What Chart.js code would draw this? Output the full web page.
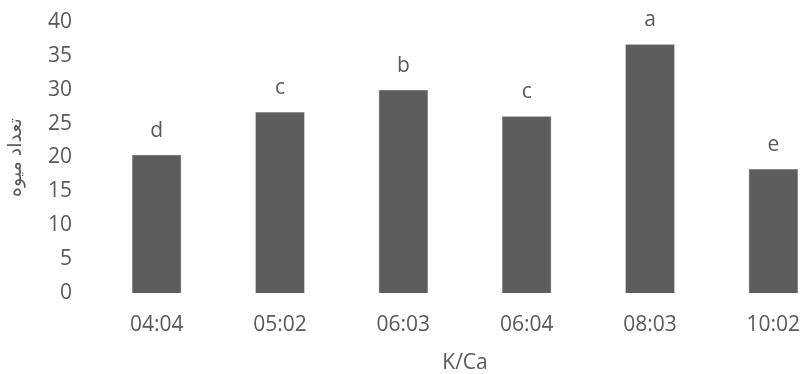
<!DOCTYPE html>
<html>
<head>
<meta charset="utf-8">
<script src="https://cdn.jsdelivr.net/npm/chart.js@4.4.1/dist/chart.umd.min.js"></script>
<style>
  html, body { margin: 0; padding: 0; background: #fff; overflow: hidden; }
  #wrap { width: 840px; height: 374px; }
</style>
</head>
<body>
<div id="wrap"><canvas id="chart" width="840" height="374"></canvas></div>
<script>
// data
const categories = ['04:04', '05:02', '06:03', '06:04', '08:03', '10:02'];
const fruitCount = [20.4, 26.7, 30.0, 26.1, 36.7, 18.3];
const groupLetters = ['d', 'c', 'b', 'c', 'a', 'e'];
const yTicks = [0, 5, 10, 15, 20, 25, 30, 35, 40];

const textColor = '#595959';
const fontFamily = '"Open Sans", "Liberation Sans", sans-serif';

// significance letters above each bar
const letterPlugin = {
  id: 'letters',
  afterDatasetsDraw(chart) {
    const ctx = chart.ctx;
    const meta = chart.getDatasetMeta(0);
    ctx.save();
    ctx.fillStyle = textColor;
    ctx.font = '21px ' + fontFamily;
    ctx.textAlign = 'center';
    ctx.textBaseline = 'middle';
    meta.data.forEach(function (bar, i) {
      ctx.fillText(groupLetters[i], bar.x, bar.y - 24);
    });
    ctx.restore();
  }
};

const ctx = document.getElementById('chart').getContext('2d');
new Chart(ctx, {
  type: 'bar',
  data: {
    labels: categories,
    datasets: [{
      data: fruitCount,
      backgroundColor: '#5d5d5d',
      borderColor: '#7a7a7a',
      borderWidth: 0.5,
      barPercentage: 0.4,
      categoryPercentage: 1.0
    }]
  },
  options: {
    responsive: false,
    animation: false,
    layout: { padding: { top: 22, right: 5, left: 0, bottom: 0 } },
    plugins: {
      legend: { display: false },
      tooltip: { enabled: false }
    },
    scales: {
      x: {
        afterFit(scale) {
          scale.height = 81;
          scale.paddingLeft = 0;
          scale.paddingRight = 0;
        },
        grid: { display: false, drawTicks: false },
        border: { display: false },
        ticks: {
          color: textColor,
          padding: 19,
          maxRotation: 0,
          font: { family: fontFamily, size: 21 }
        },
        title: {
          display: true,
          text: 'K/Ca',
          color: textColor,
          padding: { top: 0, bottom: 0 },
          font: { family: fontFamily, size: 21, lineHeight: 1 }
        }
      },
      y: {
        min: 0,
        max: 40,
        afterBuildTicks(scale) {
          scale.ticks = yTicks.map(v => ({ value: v }));
        },
        afterFit(scale) {
          scale.width = 95;
          scale.paddingTop = 0;
          scale.paddingBottom = 0;
        },
        grid: { display: false, drawTicks: false },
        border: { display: false },
        ticks: {
          color: textColor,
          padding: 23,
          font: { family: fontFamily, size: 21 }
        },
        title: {
          display: true,
          text: 'تعداد میوه',
          color: textColor,
          padding: { top: 6, bottom: 0 },
          font: { family: '"Noto Sans", "DejaVu Sans", sans-serif', size: 19, lineHeight: 1 }
        }
      }
    }
  },
  plugins: [letterPlugin]
});
</script>
</body>
</html>
